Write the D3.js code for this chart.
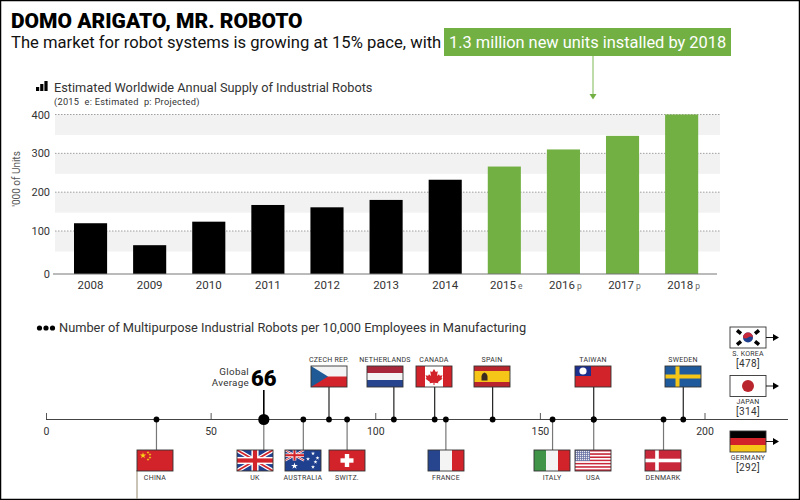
<!DOCTYPE html>
<html>
<head>
<meta charset="utf-8">
<script src="https://cdnjs.cloudflare.com/ajax/libs/d3/7.8.5/d3.min.js"></script>
<style>
  html, body { margin: 0; padding: 0; background: #fff; }
  svg { display: block; }
  text { font-family: Roboto, "Open Sans", sans-serif; fill: #333; }
</style>
</head>
<body>
<svg id="chart" width="800" height="500"></svg>
<script>
const green = "#72b043";
const svg = d3.select("#chart");

// frame + headline
svg.append("rect").attr("x", 0.5).attr("y", 0.5).attr("width", 799).attr("height", 499)
  .attr("fill", "#fff").attr("stroke", "#000").attr("stroke-width", 1.5);

svg.append("text").attr("x", 11).attr("y", 28).text("DOMO ARIGATO, MR. ROBOTO")
  .style("font-size", "21px").style("font-weight", 900).style("fill", "#000");
svg.append("text").attr("x", 11).attr("y", 48).text("The market for robot systems is growing at 15% pace, with")
  .style("font-size", "16.6px").style("fill", "#111");

svg.append("rect").attr("x", 444).attr("y", 28).attr("width", 287).attr("height", 28).attr("fill", green);
svg.append("text").attr("x", 449).attr("y", 48).text("1.3 million new units installed by 2018")
  .style("font-size", "16.4px").style("fill", "#fff");
svg.append("line").attr("x1", 593).attr("x2", 593).attr("y1", 56).attr("y2", 96)
  .attr("stroke", "#a9d08e").attr("stroke-width", 1.5);
svg.append("path").attr("d", "M589.5,94 L596.5,94 L593,99.5 Z").attr("fill", green);

// ---- bar chart ----
const supply = [
  { year: "2008", value: 120 },
  { year: "2009", value: 67 },
  { year: "2010", value: 124 },
  { year: "2011", value: 167 },
  { year: "2012", value: 161 },
  { year: "2013", value: 180 },
  { year: "2014", value: 232 },
  { year: "2015", value: 266, mark: "e" },
  { year: "2016", value: 310, mark: "p" },
  { year: "2017", value: 345, mark: "p" },
  { year: "2018", value: 400, mark: "p" },
];

const x = d3.scaleBand().domain(supply.map((d) => d.year)).range([61, 711.2])
  .paddingInner(0.44).paddingOuter(0.22);
// the zero line sits a little lower than the even grid in the original
const y = d3.scaleLinear().domain([0, 100, 400]).range([274, 231, 114.5]);

const icon = [4, 7, 10];
svg.selectAll(".icon").data(icon).enter().append("rect")
  .attr("x", (d, i) => 36 + i * 4.2).attr("y", (d) => 91 - d)
  .attr("width", 3.2).attr("height", (d) => d).attr("fill", "#000");

svg.append("text").attr("x", 54).attr("y", 91.5).text("Estimated Worldwide Annual Supply of Industrial Robots")
  .style("font-size", "12.75px");
svg.append("text").attr("x", 54).attr("y", 104.5).text("(2015  e: Estimated  p: Projected)")
  .attr("xml:space", "preserve").style("white-space", "pre")
  .style("font-size", "9.2px").style("letter-spacing", "0.3px");

const ticks = [100, 200, 300, 400];
svg.selectAll(".band").data(ticks).enter().append("rect")
  .attr("x", 55).attr("y", (d) => y(d)).attr("width", 665).attr("height", 20.5).attr("fill", "#f2f2f2");
svg.selectAll(".grid").data(ticks).enter().append("line")
  .attr("x1", 55).attr("x2", 720).attr("y1", (d) => y(d)).attr("y2", (d) => y(d))
  .attr("stroke", "#888").attr("stroke-width", 0.8).attr("stroke-dasharray", "1.5,1.5");

svg.selectAll(".bar").data(supply).enter().append("rect")
  .attr("x", (d) => x(d.year)).attr("y", (d) => y(d.value))
  .attr("width", x.bandwidth()).attr("height", (d) => y(0) - y(d.value))
  .attr("fill", (d) => (d.mark ? green : "#000"));

svg.append("line").attr("x1", 53).attr("x2", 717).attr("y1", 274).attr("y2", 274)
  .attr("stroke", "#777").attr("stroke-width", 1);

svg.selectAll(".ylab").data([0].concat(ticks)).enter().append("text")
  .attr("x", 50).attr("y", (d) => y(d) + 4).attr("text-anchor", "end").text((d) => d)
  .style("font-size", "11px");
svg.append("text").attr("transform", "translate(20,179) rotate(-90)").attr("text-anchor", "middle")
  .text("'000 of Units").style("font-size", "10px").style("fill", "#555");

const xlab = svg.selectAll(".xlab").data(supply).enter().append("text")
  .attr("x", (d) => x(d.year) + x.bandwidth() / 2 + (d.mark ? 2 : 0)).attr("y", 289)
  .attr("text-anchor", "middle").style("font-size", "11.5px");
xlab.append("tspan").text((d) => d.year);
xlab.append("tspan").text((d) => (d.mark ? " " + d.mark : "")).style("font-size", "8.5px").style("fill", "#666");

// ---- density timeline ----
const density = [
  { name: "CHINA", value: 33.4, side: "down", fx: 137, flag: "china" },
  { name: "UK", value: 66, side: "down", fx: 237, flag: "uk" },
  { name: "AUSTRALIA", value: 78, side: "down", fx: 285, flag: "australia" },
  { name: "CZECH REP.", value: 85.8, side: "up", fx: 311, flag: "czech" },
  { name: "SWITZ.", value: 91.3, side: "down", fx: 329, flag: "swiss" },
  { name: "NETHERLANDS", value: 105.5, side: "up", fx: 367, flag: "netherlands" },
  { name: "CANADA", value: 117.9, side: "up", fx: 416, flag: "canada" },
  { name: "FRANCE", value: 121.3, side: "down", fx: 428, flag: "france" },
  { name: "SPAIN", value: 135.5, side: "up", fx: 474, flag: "spain" },
  { name: "ITALY", value: 153.7, side: "down", fx: 534, flag: "italy" },
  { name: "TAIWAN", value: 166.2, side: "up", fx: 575, flag: "taiwan" },
  { name: "USA", value: 166.2, side: "down", fx: 575, flag: "usa" },
  { name: "DENMARK", value: 187.4, side: "down", fx: 645, flag: "denmark" },
  { name: "SWEDEN", value: 193.4, side: "up", fx: 665, flag: "sweden" },
];
const offChart = [
  { name: "S. KOREA", value: 478, fy: 327, flag: "korea" },
  { name: "JAPAN", value: 314, fy: 375.5, flag: "japan" },
  { name: "GERMANY", value: 292, fy: 431, flag: "germany" },
];

const tx = d3.scaleLinear().domain([0, 200]).range([46.5, 705]);
const lineY = 419.5;
const flagW = 36, flagH = 21;

for (let i = 0; i < 3; i++) {
  svg.append("circle").attr("cx", 39.5 + i * 6.5).attr("cy", 328).attr("r", 2.6).attr("fill", "#000");
}
svg.append("text").attr("x", 59).attr("y", 332).text("Number of Multipurpose Industrial Robots per 10,000 Employees in Manufacturing")
  .style("font-size", "12.8px");

// stems first, so the axis and dots sit on top
svg.selectAll(".stem").data(density).enter().append("line")
  .attr("x1", (d) => tx(d.value)).attr("x2", (d) => tx(d.value))
  .attr("y1", lineY).attr("y2", (d) => (d.side === "up" ? 387 : 450))
  .attr("stroke", (d) => (d.side === "up" ? "#222" : "#777")).attr("stroke-width", 1.2);
svg.append("line").attr("x1", 137).attr("x2", 137).attr("y1", 470).attr("y2", 499)
  .attr("stroke", "#a79c86").attr("stroke-width", 1.2);

svg.append("line").attr("x1", 46).attr("x2", 788).attr("y1", lineY).attr("y2", lineY)
  .attr("stroke", "#444").attr("stroke-width", 1.2);
svg.selectAll(".tick").data([0, 50, 100, 150, 200]).enter().append("line")
  .attr("x1", (d) => tx(d)).attr("x2", (d) => tx(d)).attr("y1", 413).attr("y2", lineY)
  .attr("stroke", "#444").attr("stroke-width", 0.9);
svg.selectAll(".tlab").data([0, 50, 100, 150, 200]).enter().append("text")
  .attr("x", (d) => tx(d)).attr("y", 435).attr("text-anchor", "middle").text((d) => d)
  .style("font-size", "10.5px");

svg.selectAll(".dot").data(density).enter().append("circle")
  .attr("cx", (d) => tx(d.value)).attr("cy", lineY).attr("r", 2.9).attr("fill", "#000");

// global average marker
svg.append("line").attr("x1", tx(66)).attr("x2", tx(66)).attr("y1", 390).attr("y2", lineY)
  .attr("stroke", "#000").attr("stroke-width", 1.6);
svg.append("circle").attr("cx", tx(66)).attr("cy", lineY).attr("r", 5.6).attr("fill", "#000");
svg.append("text").attr("x", 249).attr("y", 374.5).attr("text-anchor", "end").text("Global")
  .style("font-size", "9.8px").style("letter-spacing", "0.3px");
svg.append("text").attr("x", 249).attr("y", 386).attr("text-anchor", "end").text("Average")
  .style("font-size", "9.8px").style("letter-spacing", "0.3px");
svg.append("text").attr("x", 251).attr("y", 386).text("66")
  .style("font-size", "22px").style("font-weight", 900).style("fill", "#000");

// ---- flags, each drawn in its own 36x21 box ----
function stripesH(g, cols) {
  const s = d3.scaleBand().domain(d3.range(cols.length)).range([0, flagH]);
  cols.forEach((c, i) => g.append("rect").attr("y", s(i)).attr("width", flagW).attr("height", s.bandwidth() + 0.2).attr("fill", c));
}
function stripesV(g, cols) {
  const s = d3.scaleBand().domain(d3.range(cols.length)).range([0, flagW]);
  cols.forEach((c, i) => g.append("rect").attr("x", s(i)).attr("width", s.bandwidth() + 0.2).attr("height", flagH).attr("fill", c));
}
function cross(g, cx, cy, w, col) {
  g.append("rect").attr("x", cx - w / 2).attr("width", w).attr("height", flagH).attr("fill", col);
  g.append("rect").attr("y", cy - w / 2).attr("width", flagW).attr("height", w).attr("fill", col);
}
function union(g, w, h) {
  g.append("rect").attr("width", w).attr("height", h).attr("fill", "#1f3f8f");
  [[0, 0, w, h], [w, 0, 0, h]].forEach((p) => {
    g.append("line").attr("x1", p[0]).attr("y1", p[1]).attr("x2", p[2]).attr("y2", p[3]).attr("stroke", "#fff").attr("stroke-width", h * 0.2);
    g.append("line").attr("x1", p[0]).attr("y1", p[1]).attr("x2", p[2]).attr("y2", p[3]).attr("stroke", "#d2232a").attr("stroke-width", h * 0.08);
  });
  g.append("rect").attr("x", w / 2 - h * 0.17).attr("width", h * 0.34).attr("height", h).attr("fill", "#fff");
  g.append("rect").attr("y", h / 2 - h * 0.17).attr("width", w).attr("height", h * 0.34).attr("fill", "#fff");
  g.append("rect").attr("x", w / 2 - h * 0.1).attr("width", h * 0.2).attr("height", h).attr("fill", "#d2232a");
  g.append("rect").attr("y", h / 2 - h * 0.1).attr("width", w).attr("height", h * 0.2).attr("fill", "#d2232a");
}
function star(g, cx, cy, size, col) {
  g.append("path").attr("d", d3.symbol(d3.symbolStar, size)()).attr("transform", `translate(${cx},${cy})`).attr("fill", col);
}

const red = "#d2232a";
const flags = {
  china(g) {
    g.append("rect").attr("width", flagW).attr("height", flagH).attr("fill", red);
    star(g, 6, 5.5, 12, "#f9d616");
    [[11, 2.5], [13, 4.5], [13, 7.5], [11, 9.5]].forEach((p) => star(g, p[0], p[1], 2.5, "#f9d616"));
  },
  uk(g) { union(g, flagW, flagH); },
  australia(g) {
    g.append("rect").attr("width", flagW).attr("height", flagH).attr("fill", "#1f3f8f");
    union(g, 19, 10.5);
    star(g, 9.5, 16, 14, "#fff");
    [[28, 3.5], [23, 9], [32.5, 8], [28, 17], [30.5, 12]].forEach((p) => star(g, p[0], p[1], 5, "#fff"));
  },
  czech(g) {
    stripesH(g, ["#f4f4f4", red]);
    g.append("path").attr("d", "M0,0 L17,10.5 L0,21 Z").attr("fill", "#1f5a96");
  },
  swiss(g) {
    g.append("rect").attr("width", flagW).attr("height", flagH).attr("fill", red);
    g.append("rect").attr("x", 15.8).attr("y", 4).attr("width", 4.4).attr("height", 13).attr("fill", "#fff");
    g.append("rect").attr("x", 11.5).attr("y", 8.3).attr("width", 13).attr("height", 4.4).attr("fill", "#fff");
  },
  netherlands(g) { stripesH(g, ["#a9273a", "#f4f4f4", "#27458f"]); },
  canada(g) {
    g.append("rect").attr("width", flagW).attr("height", flagH).attr("fill", "#fff");
    g.append("rect").attr("width", 9).attr("height", flagH).attr("fill", red);
    g.append("rect").attr("x", 27).attr("width", 9).attr("height", flagH).attr("fill", red);
    g.append("path").attr("d", "M18,3 L19.8,6 L21.8,5.2 L21,10 L23,8.2 L23.8,9.8 L26.5,9.3 L25.5,12 L26.5,12.8 L22,16 L22.4,17.2 L18.5,16.7 L18.5,19 L17.5,19 L17.5,16.7 L13.6,17.2 L14,16 L9.5,12.8 L10.5,12 L9.5,9.3 L12.2,9.8 L13,8.2 L15,10 L14.2,5.2 L16.2,6 Z").attr("fill", red);
  },
  france(g) { stripesV(g, ["#27458f", "#f4f4f4", red]); },
  spain(g) {
    g.append("rect").attr("width", flagW).attr("height", flagH).attr("fill", "#f5c518");
    g.append("rect").attr("width", flagW).attr("height", 5).attr("fill", "#b9252c");
    g.append("rect").attr("y", 16).attr("width", flagW).attr("height", 5).attr("fill", "#b9252c");
    g.append("path").attr("d", "M7.5,14.5 L7.5,10 Q8,7 10.5,6.5 Q13,7 13.5,10 L13.5,14.5 Z").attr("fill", "#3a2a20");
  },
  italy(g) { stripesV(g, ["#3f9447", "#f4f4f4", "#d2232a"]); },
  taiwan(g) {
    g.append("rect").attr("width", flagW).attr("height", flagH).attr("fill", red);
    g.append("rect").attr("width", 16).attr("height", 10).attr("fill", "#1c2f8c");
    g.append("circle").attr("cx", 8).attr("cy", 5).attr("r", 3.6).attr("fill", "#fff");
  },
  usa(g) {
    stripesH(g, d3.range(13).map((i) => (i % 2 ? "#fff" : "#c8283a")));
    g.append("rect").attr("width", 15).attr("height", 11).attr("fill", "#6e78a8");
    for (let i = 0; i < 7; i++) {
      for (let j = 0; j < 5; j++) {
        g.append("circle").attr("cx", 1.5 + i * 2).attr("cy", 1.5 + j * 2).attr("r", 0.7).attr("fill", "#e8e8f0");
      }
    }
  },
  denmark(g) {
    g.append("rect").attr("width", flagW).attr("height", flagH).attr("fill", "#c8283a");
    cross(g, 12, 10.5, 3.6, "#fff");
  },
  sweden(g) {
    g.append("rect").attr("width", flagW).attr("height", flagH).attr("fill", "#1f5a9c");
    cross(g, 12.5, 10.5, 4, "#f5c518");
  },
  korea(g) {
    g.append("rect").attr("width", flagW).attr("height", flagH).attr("fill", "#fff");
    g.append("circle").attr("cx", 18).attr("cy", 10.5).attr("r", 5).attr("fill", "#1f3f8f");
    g.append("path").attr("d", "M13,10.5 A5,5 0 0 1 23,10.5 Q20.5,8.5 18,10.5 Q15.5,12.5 13,10.5 Z").attr("fill", "#c8283a");
    [[9, 5, 40], [27, 5, -40], [9, 16, -40], [27, 16, 40]].forEach((p) => {
      g.append("rect").attr("x", -2.6).attr("y", -1.7).attr("width", 5.2).attr("height", 3.4).attr("fill", "#000")
        .attr("transform", `translate(${p[0]},${p[1]}) rotate(${p[2]})`);
    });
  },
  japan(g) {
    g.append("rect").attr("width", flagW).attr("height", flagH).attr("fill", "#fff");
    g.append("circle").attr("cx", 18).attr("cy", 10.5).attr("r", 6).attr("fill", "#b9252c");
  },
  germany(g) { stripesH(g, ["#000", "#d2232a", "#f5c518"]); },
};

function drawFlag(fx, fy, name) {
  const clipId = "clip-" + name;
  svg.append("clipPath").attr("id", clipId).append("rect").attr("width", flagW).attr("height", flagH);
  const g = svg.append("g").attr("transform", `translate(${fx},${fy})`);
  flags[name](g.append("g").attr("clip-path", `url(#${clipId})`));
  g.append("rect").attr("width", flagW).attr("height", flagH).attr("fill", "none")
    .attr("stroke", "#333").attr("stroke-width", 0.9);
}

density.forEach((d) => {
  const fy = d.side === "up" ? 366 : 450;
  drawFlag(d.fx, fy, d.flag);
  svg.append("text").attr("x", d.fx + flagW / 2).attr("y", d.side === "up" ? 362 : 479.5)
    .attr("text-anchor", "middle").text(d.name)
    .style("font-size", "7px").style("letter-spacing", "0.25px");
});

offChart.forEach((d) => {
  drawFlag(730, d.fy, d.flag);
  svg.append("line").attr("x1", 766).attr("x2", 774).attr("y1", d.fy + 10.5).attr("y2", d.fy + 10.5)
    .attr("stroke", "#000").attr("stroke-width", 0.9);
  svg.append("path").attr("d", `M773,${d.fy + 7} L779,${d.fy + 10.5} L773,${d.fy + 14} Z`).attr("fill", "#000");
  svg.append("text").attr("x", 748).attr("y", d.fy + 28.5).attr("text-anchor", "middle")
    .text(d.name).style("font-size", "7px").style("letter-spacing", "0.25px");
  svg.append("text").attr("x", 748).attr("y", d.fy + 39.5).attr("text-anchor", "middle")
    .text("[" + d.value + "]").style("font-size", "10px").style("letter-spacing", "0.4px");
});
</script>
</body>
</html>
